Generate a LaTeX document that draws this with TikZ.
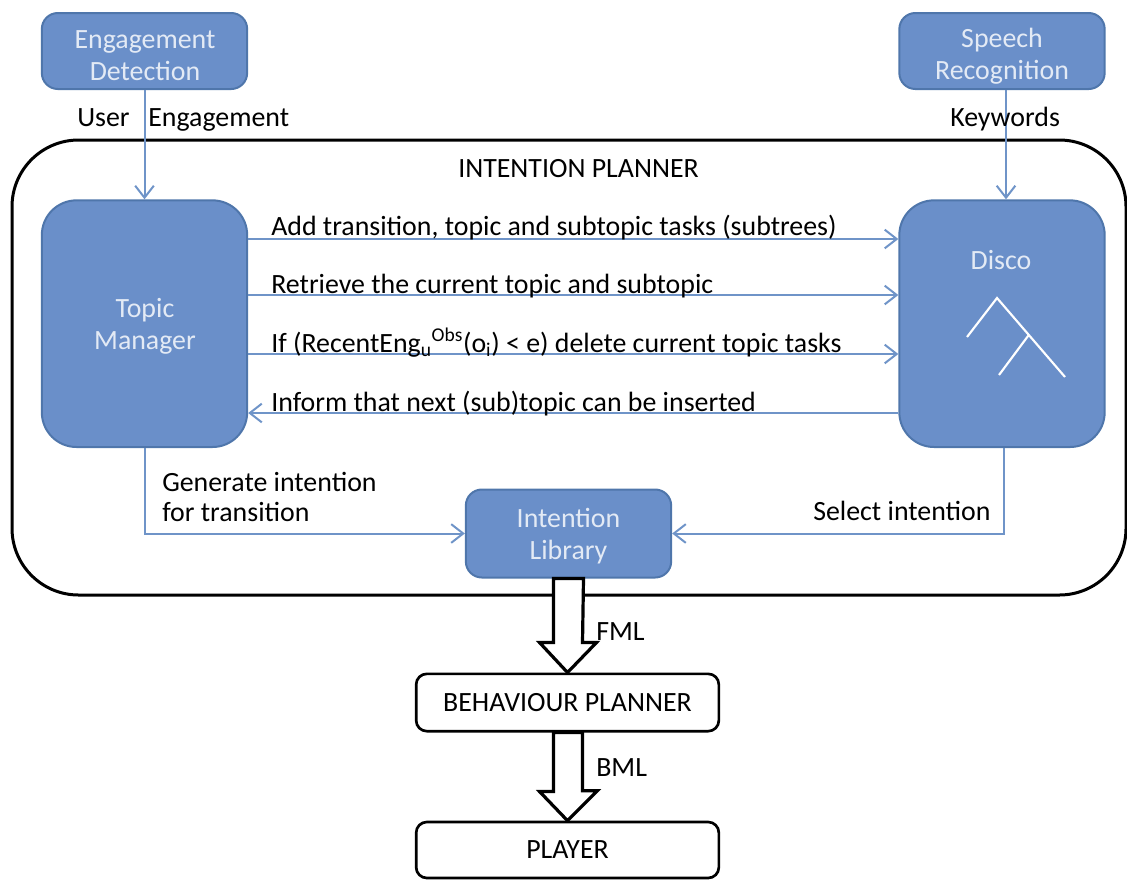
\documentclass[tikz,border=0pt]{standalone}
\usepackage{fontspec}
\setmainfont{Carlito}
\usetikzlibrary{positioning,arrows.meta,calc}
\definecolor{boxblue}{HTML}{6A8FC9}
\definecolor{boxedge}{HTML}{4F76AB}
\definecolor{linkblue}{HTML}{6F94C8}
\definecolor{boxtext}{HTML}{E3EAF5}

\begin{document}
\begin{tikzpicture}[x=0.75pt,y=-0.75pt,
    font=\fontsize{20.9pt}{24pt}\selectfont,
    bluebox/.style={draw=boxedge,fill=boxblue,line width=1.5pt,inner sep=0pt},
    boxlabel/.style={text=boxtext,align=center,inner sep=0pt},
    plainbox/.style={draw=black,fill=white,line width=2pt,rounded corners=8pt,minimum width=227pt,inner sep=0pt},
    link/.style={draw=linkblue,line width=1.5pt,-{Straight Barb[length=9pt,width=14pt,line width=1.5pt]}},
    bigarrow/.style={draw=black,fill=white,line width=2.4pt,line join=miter},
    lbl/.style={anchor=base west,inner sep=0pt}]
\useasboundingbox (0,0) rectangle (1127,879);

\draw[line width=2.25pt,rounded corners=50pt] (12,140) rectangle (1126,595);
\node[lbl] (planner) at (458,177) {INTENTION PLANNER};

\node[bluebox,rounded corners=12pt,minimum width=154pt,minimum height=57pt] (engage) at (144.5,51) {};
\node[bluebox,rounded corners=12pt,minimum width=154pt,minimum height=57pt] (speech) at (1002,51) {};
\node[bluebox,rounded corners=26pt,minimum width=154pt,minimum height=185pt,below=82pt of engage] (topic) {};
\node[bluebox,rounded corners=26pt,minimum width=154pt,minimum height=185pt,below=82pt of speech] (disco) {};
\node[bluebox,rounded corners=12pt,minimum width=154pt,minimum height=66pt] (library) at (568.5,533.5) {};
\node[plainbox,minimum height=43pt] (behaviour) at (567.5,702.5) {\raisebox{-1.5pt}{BEHAVIOUR PLANNER}};
\node[plainbox,minimum height=42pt] (player) at (567.5,850) {\raisebox{-2pt}{PLAYER}};

\node[boxlabel] (engagelabel) at (145,56) {Engagement\\Detection};
\node[boxlabel] (speechlabel) at (1002,56) {Speech\\Recognition};
\node[boxlabel] (topiclabel) at (145,326) {Topic\\Manager};
\node[boxlabel] (discolabel) at (1001,260) {Disco};
\node[boxlabel] (librarylabel) at (568.5,536) {Intention\\Library};

% the little task tree
\coordinate (treetop) at (997,298);
\coordinate (treeleft) at (967,337);
\coordinate (treeright) at (1065,377);
\coordinate (treemid) at (1028,336);
\coordinate (treelow) at (999,375);
\draw[white,line width=1.6pt] (treeleft) -- (treetop) -- (treeright) (treemid) -- (treelow);

\draw[link] (engage) -- (topic);
\draw[link] ($(speech.south)+(4,0)$) -- ($(disco.north)+(4,0)$);
\draw[link] (topic.east |- 0,239) -- (disco.west |- 0,239);
\draw[link] (topic.east |- 0,295) -- (disco.west |- 0,295);
\draw[link] (topic.east |- 0,354) -- (disco.west |- 0,354);
\draw[link] (disco.west |- 0,413) -- (topic.east |- 0,413);
\draw[link] (topic.south) |- (library.west);
\draw[link] ($(disco.south)+(2,0)$) |- (library.east);

\draw[bigarrow] ($(library.south)+(-15,0)$) -- ++(0,64) -- ++(-14,0) -- (behaviour.north)
    -- ++(29,-30) -- ++(-14,0) -- ($(library.south)+(15,0)$) -- cycle;
\draw[bigarrow] ($(behaviour.south)+(-14,0)$) -- ++(0,59) -- ++(-14,0) -- (player.north)
    -- ++(30,-30) -- ++(-15,0) -- ($(behaviour.south)+(15,0)$) -- cycle;

\node[lbl] (userlabel) at (77,126) {User\hspace{14pt}Engagement};
\node[lbl] (keywordlabel) at (950,126) {Keywords};
\node[lbl] (addlabel) at (271,235) {Add transition, topic and subtopic tasks (subtrees)};
\node[lbl] (retrievelabel) at (271,293) {Retrieve the current topic and subtopic};
\node[lbl] (iflabel) at (271,352) {If (RecentEng\textsubscript{u}\textsuperscript{Obs}(o\textsubscript{i}) < e) delete current topic tasks};
\node[lbl] (informlabel) at (271,411) {Inform that next (sub)topic can be inserted};
\node[lbl] (generatelabel) at (162,491) {Generate intention};
\node[lbl] (forlabel) at (162,521) {for transition};
\node[lbl] (selectlabel) at (813,520) {Select intention};
\node[lbl] (fmllabel) at (596,640) {FML};
\node[lbl] (bmllabel) at (596,776) {BML};
\end{tikzpicture}
\end{document}
